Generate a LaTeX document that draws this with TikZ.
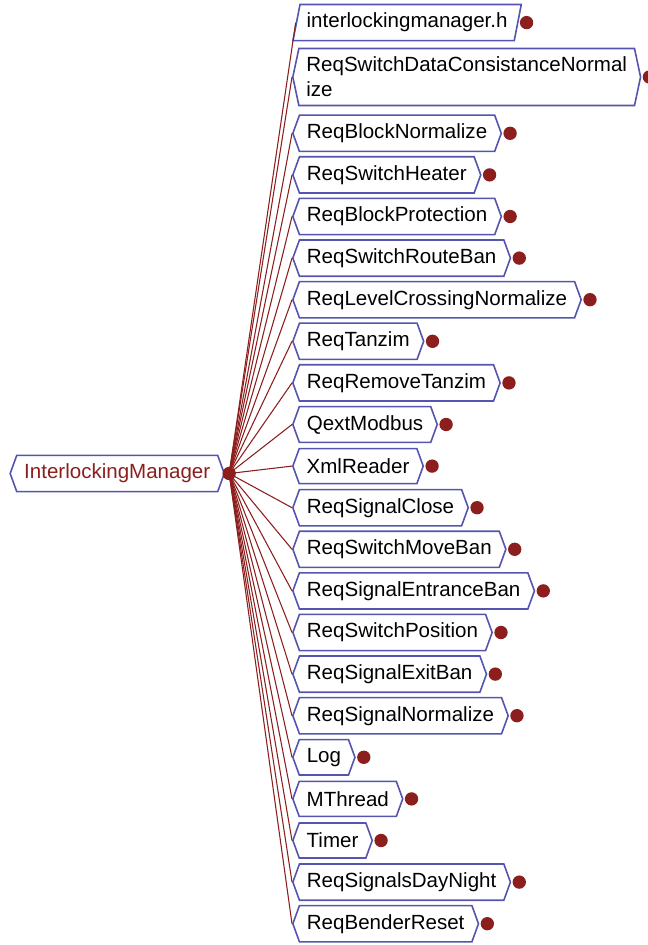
\documentclass[tikz,border=0pt]{standalone}
\usepackage{fontspec}
\setmainfont{Liberation Sans}
\usetikzlibrary{shapes.symbols,shapes.geometric}
\definecolor{imblue}{RGB}{85,85,175}
\definecolor{imred}{RGB}{140,30,30}

\begin{document}
\begin{tikzpicture}[x=0.75pt, y=-0.75pt,
    font=\fontsize{15.4}{18.7}\selectfont,
    hexbox/.style={signal, signal to=east and west, signal pointer angle=140,
                   draw=imblue, line width=1.2pt, fill=white,
                   inner xsep=5.6pt, inner ysep=6.4pt, minimum height=26.25pt,
                   anchor=west, align=left},
    filebox/.style={trapezium, trapezium left angle=79, trapezium right angle=101,
                    draw=imblue, line width=1.2pt, fill=white,
                    inner xsep=5pt, inner ysep=6.4pt, minimum height=26.25pt,
                    anchor=bottom left corner},
    link/.style={imred, line width=0.8pt},
    knob/.style={fill=imred}
  ]
  \useasboundingbox (0,0) rectangle (648,945);
  % Root
  \node[hexbox, text=imred] (root) at (9.3,473.5) {InterlockingManager};
  \coordinate (hub) at ([xshift=3pt]root.east);
  % Children
  \node[filebox] (hdr) at (292,41.5) {interlockingmanager.h};
  \node[hexbox, signal pointer angle=156] (dcn) at (292,77)
    {ReqSwitchDataConsistanceNormal\\ize};
  \foreach \name [count=\i] in {ReqBlockNormalize, ReqSwitchHeater,
      ReqBlockProtection, ReqSwitchRouteBan, ReqLevelCrossingNormalize,
      ReqTanzim, ReqRemoveTanzim, QextModbus, XmlReader, ReqSignalClose,
      ReqSwitchMoveBan, ReqSignalEntranceBan, ReqSwitchPosition,
      ReqSignalExitBan, ReqSignalNormalize, Log, MThread, Timer,
      ReqSignalsDayNight, ReqBenderReset}
    \node[hexbox] (c\i) at (292,{133.3+41.6*(\i-1)}) {\name};
  % Links and knobs
  \foreach \n in {hdr,dcn,c1,c2,c3,c4,c5,c6,c7,c8,c9,c10,
                  c11,c12,c13,c14,c15,c16,c17,c18,c19,c20} {
    \draw[link] (hub) -- (\n.west);
    \fill[knob] ([xshift=6pt]\n.east) circle (5pt);
  }
  \fill[knob] (hub) circle (5pt);
\end{tikzpicture}
\end{document}
